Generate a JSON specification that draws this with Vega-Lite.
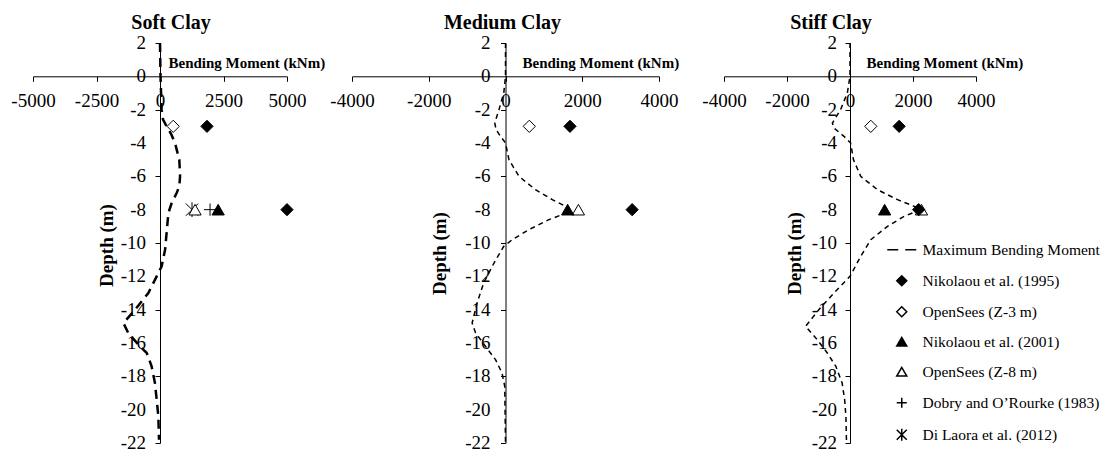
{
  "$schema": "https://vega.github.io/schema/vega-lite/v6.json",
  "padding": {"left": 10, "top": 13, "right": 5, "bottom": 0},
  "background": "white",
  "config": {
    "view": {"stroke": null},
    "font": "Liberation Serif",
    "axis": {"grid": false, "domainColor": "black", "tickColor": "black", "labelColor": "black", "titleColor": "black", "tickSize": 5, "titleFont": "Liberation Serif", "titleFontWeight": "bold", "labelFont": "Liberation Serif", "labelFontSize": 19, "labelOverlap": false, "labelFlush": false},
    "title": {"fontSize": 20, "fontWeight": "bold", "color": "black", "font": "Liberation Serif", "offset": 1}
  },
  "datasets": {
    "yticks": [{"v": 2}, {"v": 0}, {"v": -2}, {"v": -4}, {"v": -6}, {"v": -8}, {"v": -10}, {"v": -12}, {"v": -14}, {"v": -16}, {"v": -18}, {"v": -20}, {"v": -22}],
    "curves": [
      {"panel": "Soft", "depth": 2, "moment": 0},
      {"panel": "Soft", "depth": 0, "moment": 20},
      {"panel": "Soft", "depth": -2, "moment": 65},
      {"panel": "Soft", "depth": -2.6, "moment": 120},
      {"panel": "Soft", "depth": -3, "moment": 260},
      {"panel": "Soft", "depth": -3.5, "moment": 450},
      {"panel": "Soft", "depth": -4, "moment": 590},
      {"panel": "Soft", "depth": -5, "moment": 760},
      {"panel": "Soft", "depth": -6, "moment": 790},
      {"panel": "Soft", "depth": -6.6, "moment": 760},
      {"panel": "Soft", "depth": -7, "moment": 655},
      {"panel": "Soft", "depth": -7.6, "moment": 460},
      {"panel": "Soft", "depth": -8.2, "moment": 330},
      {"panel": "Soft", "depth": -9.4, "moment": 260},
      {"panel": "Soft", "depth": -10.4, "moment": 200},
      {"panel": "Soft", "depth": -11.4, "moment": 65},
      {"panel": "Soft", "depth": -12, "moment": -130},
      {"panel": "Soft", "depth": -13, "moment": -460},
      {"panel": "Soft", "depth": -14, "moment": -980},
      {"panel": "Soft", "depth": -14.8, "moment": -1440},
      {"panel": "Soft", "depth": -15.4, "moment": -1250},
      {"panel": "Soft", "depth": -16.2, "moment": -790},
      {"panel": "Soft", "depth": -16.6, "moment": -520},
      {"panel": "Soft", "depth": -17.4, "moment": -330},
      {"panel": "Soft", "depth": -18.4, "moment": -200},
      {"panel": "Soft", "depth": -19.4, "moment": -130},
      {"panel": "Soft", "depth": -20.4, "moment": -65},
      {"panel": "Soft", "depth": -21.8, "moment": -40},
      {"panel": "Medium", "depth": 2, "moment": 0},
      {"panel": "Medium", "depth": 0, "moment": 0},
      {"panel": "Medium", "depth": -1, "moment": -45},
      {"panel": "Medium", "depth": -2, "moment": -170},
      {"panel": "Medium", "depth": -2.8, "moment": -280},
      {"panel": "Medium", "depth": -3.2, "moment": -245},
      {"panel": "Medium", "depth": -3.6, "moment": -130},
      {"panel": "Medium", "depth": -4, "moment": 0},
      {"panel": "Medium", "depth": -5, "moment": 90},
      {"panel": "Medium", "depth": -6, "moment": 350},
      {"panel": "Medium", "depth": -6.8, "moment": 780},
      {"panel": "Medium", "depth": -7.4, "moment": 1220},
      {"panel": "Medium", "depth": -7.8, "moment": 1570},
      {"panel": "Medium", "depth": -8.1, "moment": 1700},
      {"panel": "Medium", "depth": -8.6, "moment": 1130},
      {"panel": "Medium", "depth": -9.2, "moment": 610},
      {"panel": "Medium", "depth": -9.8, "moment": 175},
      {"panel": "Medium", "depth": -10.2, "moment": -45},
      {"panel": "Medium", "depth": -11.2, "moment": -300},
      {"panel": "Medium", "depth": -12.4, "moment": -570},
      {"panel": "Medium", "depth": -13.6, "moment": -740},
      {"panel": "Medium", "depth": -14.8, "moment": -870},
      {"panel": "Medium", "depth": -15.4, "moment": -780},
      {"panel": "Medium", "depth": -16.2, "moment": -520},
      {"panel": "Medium", "depth": -17, "moment": -260},
      {"panel": "Medium", "depth": -17.8, "moment": -90},
      {"panel": "Medium", "depth": -18.6, "moment": -20},
      {"panel": "Medium", "depth": -22, "moment": 0},
      {"panel": "Stiff", "depth": 2, "moment": 0},
      {"panel": "Stiff", "depth": 0, "moment": 0},
      {"panel": "Stiff", "depth": -1, "moment": -85},
      {"panel": "Stiff", "depth": -2, "moment": -300},
      {"panel": "Stiff", "depth": -2.8, "moment": -560},
      {"panel": "Stiff", "depth": -3.1, "moment": -510},
      {"panel": "Stiff", "depth": -3.6, "moment": -190},
      {"panel": "Stiff", "depth": -4, "moment": 20},
      {"panel": "Stiff", "depth": -5, "moment": 110},
      {"panel": "Stiff", "depth": -6, "moment": 340},
      {"panel": "Stiff", "depth": -6.8, "moment": 870},
      {"panel": "Stiff", "depth": -7.4, "moment": 1510},
      {"panel": "Stiff", "depth": -7.8, "moment": 2040},
      {"panel": "Stiff", "depth": -8, "moment": 2250},
      {"panel": "Stiff", "depth": -8.4, "moment": 1720},
      {"panel": "Stiff", "depth": -9, "moment": 1190},
      {"panel": "Stiff", "depth": -9.8, "moment": 660},
      {"panel": "Stiff", "depth": -10.8, "moment": 340},
      {"panel": "Stiff", "depth": -12, "moment": 0},
      {"panel": "Stiff", "depth": -13, "moment": -510},
      {"panel": "Stiff", "depth": -14, "moment": -990},
      {"panel": "Stiff", "depth": -15, "moment": -1410},
      {"panel": "Stiff", "depth": -15.8, "moment": -1040},
      {"panel": "Stiff", "depth": -16.6, "moment": -720},
      {"panel": "Stiff", "depth": -17.4, "moment": -450},
      {"panel": "Stiff", "depth": -18.4, "moment": -250},
      {"panel": "Stiff", "depth": -19.4, "moment": -170},
      {"panel": "Stiff", "depth": -20.4, "moment": -130},
      {"panel": "Stiff", "depth": -22, "moment": -110}
    ],
    "points": [
      {"panel": "Soft", "series": "Nikolaou et al. (1995)", "moment": 1850, "depth": -3},
      {"panel": "Soft", "series": "Nikolaou et al. (1995)", "moment": 5000, "depth": -8},
      {"panel": "Soft", "series": "OpenSees (Z-3 m)", "moment": 520, "depth": -3},
      {"panel": "Soft", "series": "Di Laora et al. (2012)", "moment": 1260, "depth": -8},
      {"panel": "Soft", "series": "OpenSees (Z-8 m)", "moment": 1380, "depth": -8},
      {"panel": "Soft", "series": "Dobry and O’Rourke (1983)", "moment": 1970, "depth": -8},
      {"panel": "Soft", "series": "Nikolaou et al. (2001)", "moment": 2290, "depth": -8},
      {"panel": "Medium", "series": "Nikolaou et al. (1995)", "moment": 1680, "depth": -3},
      {"panel": "Medium", "series": "Nikolaou et al. (1995)", "moment": 3300, "depth": -8},
      {"panel": "Medium", "series": "OpenSees (Z-3 m)", "moment": 620, "depth": -3},
      {"panel": "Medium", "series": "OpenSees (Z-8 m)", "moment": 1900, "depth": -8},
      {"panel": "Medium", "series": "Nikolaou et al. (2001)", "moment": 1620, "depth": -8},
      {"panel": "Stiff", "series": "Nikolaou et al. (1995)", "moment": 1560, "depth": -3},
      {"panel": "Stiff", "series": "OpenSees (Z-3 m)", "moment": 660, "depth": -3},
      {"panel": "Stiff", "series": "Nikolaou et al. (2001)", "moment": 1100, "depth": -8},
      {"panel": "Stiff", "series": "OpenSees (Z-8 m)", "moment": 2270, "depth": -8},
      {"panel": "Stiff", "series": "Nikolaou et al. (1995)", "moment": 2180, "depth": -8}
    ]
  },
  "spacing": 65,
  "bounds": "flush",
  "resolve": {"scale": {"shape": "independent", "fill": "independent", "x": "independent", "y": "independent"}, "legend": {"shape": "independent", "fill": "independent"}},
  "hconcat": [
    {
      "width": 254, "height": 400,
      "title": {"text": "Soft Clay", "anchor": "middle", "frame": "group", "dx": 11},
      "layer": [
        {
          "data": {"name": "curves"},
          "transform": [{"filter": "datum.panel === 'Soft'"}],
          "mark": {"type": "line", "color": "black", "strokeWidth": 2.5, "strokeDash": [9, 6]},
          "encoding": {
            "x": {"field": "moment", "type": "quantitative", "scale": {"domain": [-5000, 5000], "nice": false, "zero": false},
              "axis": {"orient": "bottom", "offset": -366.7, "values": [-5000, -2500, 0, 2500, 5000], "labelExpr": "'' + datum.value", "labelFlush": false, "labelOverlap": false, "labelPadding": 10, "title": "Bending Moment (kNm)", "titleFontSize": 15, "titleAlign": "left", "titleBaseline": "middle", "titleX": 135, "titleY": -14}},
            "y": {"field": "depth", "type": "quantitative", "scale": {"domain": [-22, 2], "nice": false, "zero": false},
              "axis": {"orient": "left", "offset": -127, "values": [2, 0, -2, -4, -6, -8, -10, -12, -14, -16, -18, -20, -22], "labels": false, "title": "Depth (m)", "titleFontSize": 19, "titleAlign": "center", "titleBaseline": "middle", "titleX": -54, "titleY": 202}},
            "order": {"field": "depth", "sort": "descending"}
          }
        },
        {
          "data": {"name": "yticks"},
          "mark": {"type": "text", "align": "right", "baseline": "middle", "dx": -14, "font": "Liberation Serif", "fontSize": 19, "color": "black"},
          "encoding": {
            "x": {"datum": 0, "type": "quantitative"},
            "y": {"field": "v", "type": "quantitative"},
            "text": {"field": "v", "type": "nominal"}
          }
        },
        {
          "data": {"name": "points"},
          "transform": [{"filter": "datum.panel === 'Soft'"}],
          "mark": {"type": "point", "filled": true, "stroke": "black", "strokeWidth": 1, "size": 150, "opacity": 1},
          "encoding": {
            "x": {"field": "moment", "type": "quantitative"},
            "y": {"field": "depth", "type": "quantitative"},
            "shape": {"field": "series", "type": "nominal", "legend": null,
              "scale": {"domain": ["Maximum Bending Moment", "Nikolaou et al. (1995)", "OpenSees (Z-3 m)", "Nikolaou et al. (2001)", "OpenSees (Z-8 m)", "Dobry and O’Rourke (1983)", "Di Laora et al. (2012)"],
                "range": ["M-2.9,0L-0.7,0M0.7,0L2.9,0", "diamond", "diamond", "triangle-up", "triangle-up", "M-1,0L1,0M0,-1L0,1", "M-1,-1L1,1M-1,1L1,-1M0,-1.2L0,1.2"]}},
            "fill": {"field": "series", "type": "nominal", "legend": null,
              "scale": {"domain": ["Maximum Bending Moment", "Nikolaou et al. (1995)", "OpenSees (Z-3 m)", "Nikolaou et al. (2001)", "OpenSees (Z-8 m)", "Dobry and O’Rourke (1983)", "Di Laora et al. (2012)"],
                "range": ["black", "black", "white", "black", "white", "black", "black"]}}
          }
        }
      ]
    },
    {
      "width": 307, "height": 400,
      "title": {"text": "Medium Clay", "anchor": "middle", "frame": "group", "dx": -3},
      "layer": [
        {
          "data": {"name": "curves"},
          "transform": [{"filter": "datum.panel === 'Medium'"}],
          "mark": {"type": "line", "color": "black", "strokeWidth": 1.5, "strokeDash": [5, 4]},
          "encoding": {
            "x": {"field": "moment", "type": "quantitative", "scale": {"domain": [-4000, 4000], "nice": false, "zero": false},
              "axis": {"orient": "bottom", "offset": -366.7, "values": [-4000, -2000, 0, 2000, 4000], "labelExpr": "'' + datum.value", "labelFlush": false, "labelOverlap": false, "labelPadding": 10, "title": "Bending Moment (kNm)", "titleFontSize": 15, "titleAlign": "left", "titleBaseline": "middle", "titleX": 170, "titleY": -14}},
            "y": {"field": "depth", "type": "quantitative", "scale": {"domain": [-22, 2], "nice": false, "zero": false},
              "axis": {"orient": "left", "offset": -153.5, "values": [2, 0, -2, -4, -6, -8, -10, -12, -14, -16, -18, -20, -22], "labels": false, "title": "Depth (m)", "titleFontSize": 19, "titleAlign": "center", "titleBaseline": "middle", "titleX": -66, "titleY": 210}},
            "order": {"field": "depth", "sort": "descending"}
          }
        },
        {
          "data": {"name": "yticks"},
          "mark": {"type": "text", "align": "right", "baseline": "middle", "dx": -15, "font": "Liberation Serif", "fontSize": 19, "color": "black"},
          "encoding": {
            "x": {"datum": 0, "type": "quantitative"},
            "y": {"field": "v", "type": "quantitative"},
            "text": {"field": "v", "type": "nominal"}
          }
        },
        {
          "data": {"name": "points"},
          "transform": [{"filter": "datum.panel === 'Medium'"}],
          "mark": {"type": "point", "filled": true, "stroke": "black", "strokeWidth": 1, "size": 150, "opacity": 1},
          "encoding": {
            "x": {"field": "moment", "type": "quantitative"},
            "y": {"field": "depth", "type": "quantitative"},
            "shape": {"field": "series", "type": "nominal", "legend": null,
              "scale": {"domain": ["Maximum Bending Moment", "Nikolaou et al. (1995)", "OpenSees (Z-3 m)", "Nikolaou et al. (2001)", "OpenSees (Z-8 m)", "Dobry and O’Rourke (1983)", "Di Laora et al. (2012)"],
                "range": ["M-2.9,0L-0.7,0M0.7,0L2.9,0", "diamond", "diamond", "triangle-up", "triangle-up", "M-1,0L1,0M0,-1L0,1", "M-1,-1L1,1M-1,1L1,-1M0,-1.2L0,1.2"]}},
            "fill": {"field": "series", "type": "nominal", "legend": null,
              "scale": {"domain": ["Maximum Bending Moment", "Nikolaou et al. (1995)", "OpenSees (Z-3 m)", "Nikolaou et al. (2001)", "OpenSees (Z-8 m)", "Dobry and O’Rourke (1983)", "Di Laora et al. (2012)"],
                "range": ["black", "black", "white", "black", "white", "black", "black"]}}
          }
        }
      ]
    },
    {
      "width": 252, "height": 400,
      "title": {"text": "Stiff Clay", "anchor": "middle", "frame": "group", "dx": -19},
      "layer": [
        {
          "data": {"name": "curves"},
          "transform": [{"filter": "datum.panel === 'Stiff'"}],
          "mark": {"type": "line", "color": "black", "strokeWidth": 1.5, "strokeDash": [5, 4]},
          "encoding": {
            "x": {"field": "moment", "type": "quantitative", "scale": {"domain": [-4000, 4000], "nice": false, "zero": false},
              "axis": {"orient": "bottom", "offset": -366.7, "values": [-4000, -2000, 0, 2000, 4000], "labelExpr": "'' + datum.value", "labelFlush": false, "labelOverlap": false, "labelPadding": 10, "title": "Bending Moment (kNm)", "titleFontSize": 15, "titleAlign": "left", "titleBaseline": "middle", "titleX": 142, "titleY": -14}},
            "y": {"field": "depth", "type": "quantitative", "scale": {"domain": [-22, 2], "nice": false, "zero": false},
              "axis": {"orient": "left", "offset": -126, "values": [2, 0, -2, -4, -6, -8, -10, -12, -14, -16, -18, -20, -22], "labels": false, "title": "Depth (m)", "titleFontSize": 19, "titleAlign": "center", "titleBaseline": "middle", "titleX": -56, "titleY": 210}},
            "order": {"field": "depth", "sort": "descending"}
          }
        },
        {
          "data": {"name": "yticks"},
          "mark": {"type": "text", "align": "right", "baseline": "middle", "dx": -13, "font": "Liberation Serif", "fontSize": 19, "color": "black"},
          "encoding": {
            "x": {"datum": 0, "type": "quantitative"},
            "y": {"field": "v", "type": "quantitative"},
            "text": {"field": "v", "type": "nominal"}
          }
        },
        {
          "data": {"name": "points"},
          "transform": [{"filter": "datum.panel === 'Stiff'"}],
          "mark": {"type": "point", "filled": true, "stroke": "black", "strokeWidth": 1, "size": 150, "opacity": 1},
          "encoding": {
            "x": {"field": "moment", "type": "quantitative"},
            "y": {"field": "depth", "type": "quantitative"},
            "shape": {"field": "series", "type": "nominal",
              "legend": {"title": null, "orient": "none", "legendX": 170, "legendY": 199, "labelFont": "Liberation Serif", "labelFontSize": 15.5, "labelColor": "black", "labelOffset": 13, "symbolSize": 100, "rowPadding": 13, "labelLimit": 300,
                "encode": {"symbols": {"update": {"stroke": {"value": "black"}, "strokeWidth": {"value": 1.5}, "opacity": {"value": 1}}}}},
              "scale": {"domain": ["Maximum Bending Moment", "Nikolaou et al. (1995)", "OpenSees (Z-3 m)", "Nikolaou et al. (2001)", "OpenSees (Z-8 m)", "Dobry and O’Rourke (1983)", "Di Laora et al. (2012)"],
                "range": ["M-2.9,0L-0.7,0M0.7,0L2.9,0", "diamond", "diamond", "triangle-up", "triangle-up", "M-1,0L1,0M0,-1L0,1", "M-1,-1L1,1M-1,1L1,-1M0,-1.2L0,1.2"]}},
            "fill": {"field": "series", "type": "nominal",
              "legend": {"title": null, "orient": "none", "legendX": 170, "legendY": 199, "labelFont": "Liberation Serif", "labelFontSize": 15.5, "labelColor": "black", "labelOffset": 13, "symbolSize": 100, "rowPadding": 13, "labelLimit": 300,
                "encode": {"symbols": {"update": {"stroke": {"value": "black"}, "strokeWidth": {"value": 1.5}, "opacity": {"value": 1}}}}},
              "scale": {"domain": ["Maximum Bending Moment", "Nikolaou et al. (1995)", "OpenSees (Z-3 m)", "Nikolaou et al. (2001)", "OpenSees (Z-8 m)", "Dobry and O’Rourke (1983)", "Di Laora et al. (2012)"],
                "range": ["black", "black", "white", "black", "white", "black", "black"]}}
          }
        }
      ]
    }
  ]
}
